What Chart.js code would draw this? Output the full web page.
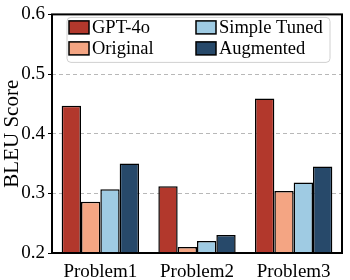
<!DOCTYPE html>
<html>
<head>
<meta charset="utf-8">
<script src="https://cdn.jsdelivr.net/npm/chart.js@4"></script>
<style>
  html, body { margin: 0; padding: 0; background: #fff; }
  #wrap { width: 350px; height: 280px; }
</style>
</head>
<body>
<div id="wrap"><canvas id="chart" width="350" height="280"></canvas></div>
<script>
const categories = ['Problem1', 'Problem2', 'Problem3'];
const seriesNames = ['GPT-4o', 'Original', 'Simple Tuned', 'Augmented'];
const gpt4o = [0.447, 0.312, 0.459];
const original = [0.286, 0.210, 0.304];
const simpleTuned = [0.307, 0.220, 0.318];
const augmented = [0.350, 0.230, 0.345];
const yTicks = [0.2, 0.3, 0.4, 0.5, 0.6];

const colors = ['#b2382c', '#f4a583', '#9fcbe3', '#27496a'];
const font = 'Liberation Serif';

// legend drawn inside the plot, two columns like the original
const insideLegend = {
    id: 'insideLegend',
    afterDraw(chart) {
        const ctx = chart.ctx;
        const a = chart.chartArea;

        // frame around plot
        ctx.save();
        ctx.strokeStyle = '#000';
        ctx.lineWidth = 2;
        ctx.strokeRect(a.left, a.top, a.right - a.left, a.bottom - a.top);

        const bx = a.left + 15, by = a.top + 3, bw = 263, bh = 45;
        ctx.beginPath();
        ctx.roundRect(bx, by, bw, bh, 4);
        ctx.fillStyle = 'rgba(255,255,255,0.8)';
        ctx.fill();
        ctx.strokeStyle = '#d0d0d0';
        ctx.lineWidth = 1;
        ctx.stroke();

        ctx.font = '18.5px "' + font + '"';
        ctx.textBaseline = 'middle';
        const cols = [bx + 2, bx + 129];
        const rows = [by + 10, by + 31];
        chart.data.datasets.forEach((ds, i) => {
            const cx = cols[Math.floor(i / 2)];
            const cy = rows[i % 2];
            ctx.fillStyle = ds.backgroundColor;
            ctx.fillRect(cx, cy - 6.5, 20, 13);
            ctx.strokeStyle = '#000';
            ctx.lineWidth = 1.5;
            ctx.strokeRect(cx, cy - 6.5, 20, 13);
            ctx.fillStyle = '#000';
            ctx.fillText(ds.label, cx + 23, cy + 1);
        });
        ctx.restore();
    }
};

const ctx = document.getElementById('chart').getContext('2d');
const myChart = new Chart(ctx, {
    type: 'bar',
    data: {
        labels: categories,
        datasets: [gpt4o, original, simpleTuned, augmented].map((vals, i) => ({
            label: seriesNames[i],
            data: vals,
            backgroundColor: colors[i],
            borderColor: '#000',
            borderWidth: 1.5,
            categoryPercentage: 0.8,
            barPercentage: 1.0
        }))
    },
    options: {
        responsive: false,
        animation: false,
        layout: { padding: { top: 12, right: 8, left: 0, bottom: 0 } },
        plugins: {
            legend: { display: false },
            tooltip: { enabled: false }
        },
        scales: {
            x: {
                grid: { display: false },
                border: { display: false },
                ticks: { color: '#000', font: { family: font, size: 19 }, padding: 0 },
                afterFit: (s) => { s.height = 27; }
            },
            y: {
                min: yTicks[0],
                max: yTicks[yTicks.length - 1],
                afterBuildTicks: (s) => { s.ticks = yTicks.map(v => ({ value: v })); },
                grid: {
                    color: (c) => (c.tick && (c.tick.value === 0.2 || c.tick.value === 0.6)) ? 'rgba(0,0,0,0)' : '#b8b8b8',
                    tickColor: '#000',
                    tickLength: 4,
                    tickBorderDash: [],
                    lineWidth: 1
                },
                border: { display: false, dash: [4, 3] },
                ticks: {
                    color: '#000',
                    font: { family: font, size: 19 },
                    padding: 3,
                    callback: (v) => Number(v).toFixed(1)
                },
                title: {
                    display: true,
                    text: 'BLEU Score',
                    color: '#000',
                    font: { family: font, size: 21 },
                    padding: 0
                },
                afterFit: (s) => { s.width = 52; }
            }
        }
    },
    plugins: [insideLegend]
});
</script>
</body>
</html>
